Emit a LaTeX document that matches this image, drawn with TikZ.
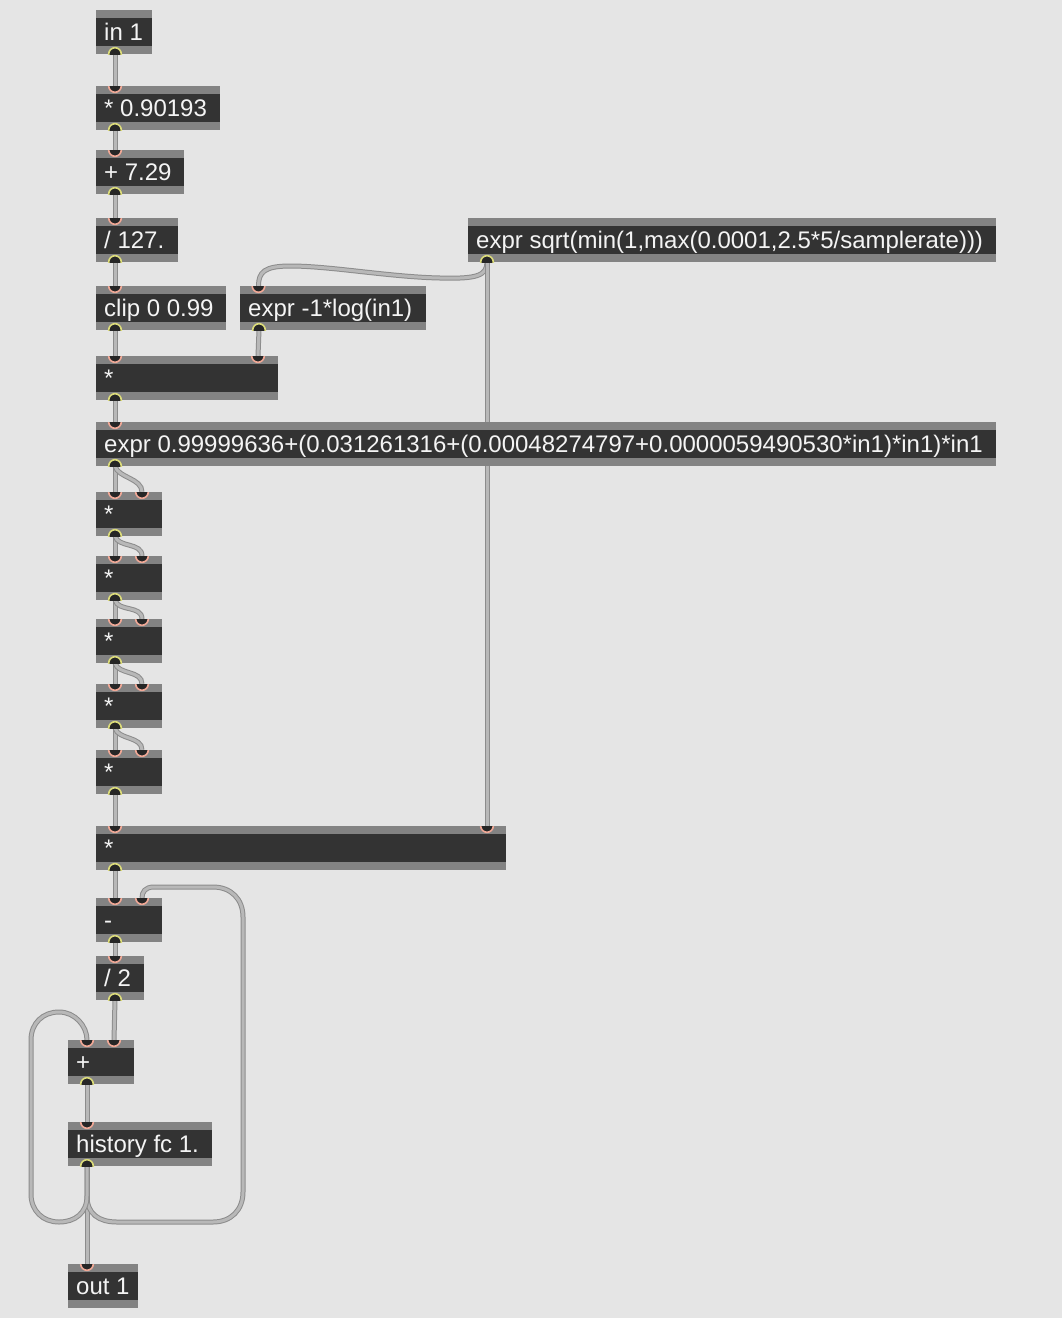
\documentclass[tikz,border=0pt]{standalone}
\usepackage{fontspec}
\setmainfont{Liberation Sans}
\usetikzlibrary{calc}
\pgfdeclarelayer{bg}
\pgfdeclarelayer{cables}
\pgfsetlayers{bg,cables,main}
\definecolor{bgc}{HTML}{E5E5E5}
\definecolor{band}{HTML}{838383}
\definecolor{objdark}{HTML}{333333}
\definecolor{txt}{HTML}{F4F4F4}
\definecolor{cabedge}{HTML}{8C8C8C}
\definecolor{cabfill}{HTML}{B8B8B8}
\definecolor{inring}{HTML}{F0A896}
\definecolor{outring}{HTML}{DCDC7A}
\definecolor{portfill}{HTML}{262626}
\tikzset{
 objbox/.style={fill=band, inner sep=0pt, outer sep=0pt, minimum height=44pt, anchor=north west},
 objtext/.style={text=txt, inner sep=0pt, font=\fontsize{24}{28}\selectfont, anchor=base west},
 cable/.style={draw=cabedge, line width=1pt, double=cabfill, double distance=3pt},
 inportst/.style={fill=portfill, draw=inring, line width=1.6pt},
 outportst/.style={fill=portfill, draw=outring, line width=1.6pt},
}
\newcommand\maxobj[5]{%
 \node[objbox, minimum width=#4pt] (#1) at (#2,#3) {};
 \fill[objdark] ($(#1.north west)+(0,8)$) rectangle ($(#1.south east)+(0,-8)$);
 \node[objtext] (#1-t) at ($(#1.north west)+(8,30.5)$) {#5};
}
\newcommand\mxin[3]{%
 \coordinate (#1-#2) at ($(#1.north west)+(#3,0)$);
 \begin{scope}\clip (#1.north west) rectangle (#1.south east);
 \filldraw[inportst] (#1-#2) circle (6.3);\end{scope}}
\newcommand\mxout[3]{%
 \coordinate (#1-#2) at ($(#1.south west)+(#3,0)$);
 \begin{scope}\clip (#1.north west) rectangle (#1.south east);
 \filldraw[outportst] (#1-#2) circle (6.3);\end{scope}}
\begin{document}
\begin{tikzpicture}[x=1pt,y=-1pt]
\useasboundingbox (0,0) rectangle (1062,1318);
\begin{pgfonlayer}{bg}
\fill[bgc] (0,0) rectangle (1062,1318);
\end{pgfonlayer}
% objects
\maxobj{in1}{96}{10}{56}{in 1}
\mxout{in1}{o1}{19}
\maxobj{mula}{96}{86}{124}{* 0.90193}
\mxin{mula}{i1}{19}\mxout{mula}{o1}{19}
\maxobj{adda}{96}{150}{88}{+ 7.29}
\mxin{adda}{i1}{19}\mxout{adda}{o1}{19}
\maxobj{diva}{96}{218}{82}{/ 127.}
\mxin{diva}{i1}{19}\mxout{diva}{o1}{19}
\maxobj{clipa}{96}{286}{130}{clip 0 0.99}
\mxin{clipa}{i1}{19}\mxout{clipa}{o1}{19}
\maxobj{logx}{240}{286}{186}{expr -1*log(in1)}
\mxin{logx}{i1}{18.5}\mxout{logx}{o1}{19}
\maxobj{sqrtx}{468}{218}{528}{expr sqrt(min(1,max(0.0001,2.5*5/samplerate)))}
\mxout{sqrtx}{o1}{19}
\maxobj{mulw}{96}{356}{182}{*}
\mxin{mulw}{i1}{19}\mxin{mulw}{i2}{162}\mxout{mulw}{o1}{19}
\maxobj{bigx}{96}{422}{900}{expr 0.99999636+(0.031261316+(0.00048274797+0.0000059490530*in1)*in1)*in1}
\mxin{bigx}{i1}{19}\mxout{bigx}{o1}{19}
\foreach \nm/\yy in {ma/492,mb/556,mc/619,md/684,me/750}{
 \maxobj{\nm}{96}{\yy}{66}{*}
 \mxin{\nm}{i1}{19}\mxin{\nm}{i2}{46}\mxout{\nm}{o1}{19}
}
\maxobj{mulb}{96}{826}{410}{*}
\mxin{mulb}{i1}{19}\mxin{mulb}{i2}{391}\mxout{mulb}{o1}{19}
\maxobj{sub}{96}{898}{66}{-}
\mxin{sub}{i1}{19}\mxin{sub}{i2}{46}\mxout{sub}{o1}{19}
\maxobj{half}{96}{956}{48}{/ 2}
\mxin{half}{i1}{19}\mxout{half}{o1}{19}
\maxobj{acc}{68}{1040}{66}{+}
\mxin{acc}{i1}{19}\mxin{acc}{i2}{46}\mxout{acc}{o1}{19}
\maxobj{hist}{68}{1122}{144}{history fc 1.}
\mxin{hist}{i1}{19}\mxout{hist}{o1}{19}
\maxobj{outa}{68}{1264}{70}{out 1}
\mxin{outa}{i1}{19}
% cables
\begin{pgfonlayer}{cables}
\draw[cable] (in1-o1) -- (mula-i1);
\draw[cable] (mula-o1) -- (adda-i1);
\draw[cable] (adda-o1) -- (diva-i1);
\draw[cable] (diva-o1) -- (clipa-i1);
\draw[cable] (clipa-o1) -- (mulw-i1);
\draw[cable] (logx-o1) -- (mulw-i2);
\draw[cable] (sqrtx-o1) .. controls +(0,14) and +(36,1) .. ($(sqrtx-o1)+(-47,16)$)
  .. controls +(-50,-1) and +(40,0) .. ($(logx-i1)+(32,-20)$)
  .. controls +(-26,0) and +(0,-14) .. (logx-i1);
\draw[cable] (sqrtx-o1) -- (mulb-i2);
\draw[cable] (mulw-o1) -- (bigx-i1);
\draw[cable] (bigx-o1) -- (ma-i1);
\draw[cable] (bigx-o1) .. controls +(3,12) and +(0,-14) .. (ma-i2);
\foreach \a/\b in {ma/mb,mb/mc,mc/md,md/me}{
 \draw[cable] (\a-o1) -- (\b-i1);
 \draw[cable] (\a-o1) .. controls +(3,12) and +(0,-14) .. (\b-i2);
}
\draw[cable] (me-o1) -- (mulb-i1);
\draw[cable] (mulb-o1) -- (sub-i1);
\draw[cable] (sub-o1) -- (half-i1);
\draw[cable] (half-o1) -- (acc-i2);
\draw[cable] (acc-o1) -- (hist-i1);
\draw[cable] (hist-o1) -- (outa-i1);
\draw[cable] (hist-o1) -- ($(hist-o1)+(0,30)$)
  .. controls +(0,18) and +(-18,0) .. ($(hist-o1)+(30,56)$)
  -- ($(hist-o1)+(126,56)$)
  .. controls +(18,0) and +(0,18) .. ($(hist-o1)+(156,26)$)
  -- ($(sub-i2)+(101,19)$)
  .. controls +(0,-18) and +(18,0) .. ($(sub-i2)+(71,-11)$)
  -- ($(sub-i2)+(12,-11)$)
  .. controls +(-9,0) and +(0,-6) .. (sub-i2);
\draw[cable] (hist-o1) -- ($(hist-o1)+(0,30)$)
  .. controls +(0,17) and +(16,0) .. ($(hist-o1)+(-28,56)$)
  .. controls +(-16,0) and +(0,17) .. ($(hist-o1)+(-56,28)$)
  -- ($(acc-i1)+(-56,0)$)
  .. controls +(0,-17) and +(-16,0) .. ($(acc-i1)+(-28,-28)$)
  .. controls +(16,0) and +(0,-14) .. (acc-i1);
\end{pgfonlayer}
\end{tikzpicture}
\end{document}
